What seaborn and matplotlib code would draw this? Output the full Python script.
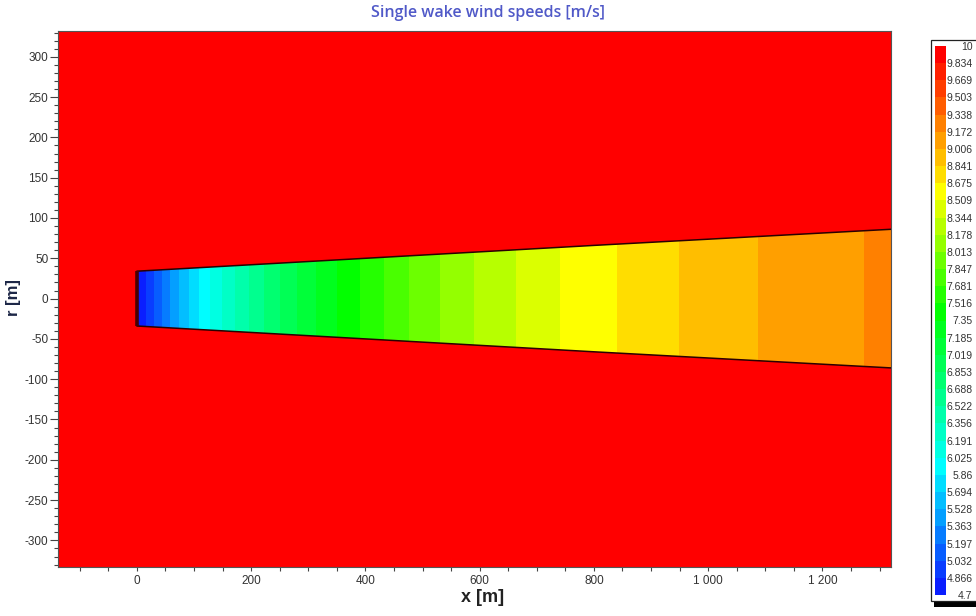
import numpy as np
import matplotlib
matplotlib.use("Agg")
import matplotlib.pyplot as plt
from matplotlib.colors import ListedColormap, BoundaryNorm, LinearSegmentedColormap
from matplotlib.cm import ScalarMappable
from matplotlib.patches import Polygon, Rectangle
from matplotlib.ticker import MultipleLocator, FuncFormatter
import seaborn as sns

# Colour-scale levels of the wind speed [m/s]
level_labels = ["4.7", "4.866", "5.032", "5.197", "5.363", "5.528", "5.694", "5.86",
                "6.025", "6.191", "6.356", "6.522", "6.688", "6.853", "7.019", "7.185",
                "7.35", "7.516", "7.681", "7.847", "8.013", "8.178", "8.344", "8.509",
                "8.675", "8.841", "9.006", "9.172", "9.338", "9.503", "9.669", "9.834", "10"]
levels = [float(s) for s in level_labels]

# Free-stream speed outside the wake [m/s]
free_stream = 10.0

# Wake bands: downstream start of each band [m] and its wind speed [m/s]
band_start_x = [0, 16, 30, 44, 58, 74, 91, 109, 128, 149, 172, 196, 223, 251,
                280, 314, 350, 390, 433, 476, 530, 590, 663, 740, 840, 949, 1088, 1272]
band_speed = [4.78, 4.95, 5.11, 5.28, 5.45, 5.61, 5.78, 5.94, 6.11, 6.27, 6.44, 6.60,
              6.77, 6.94, 7.10, 7.27, 7.43, 7.60, 7.76, 7.93, 8.10, 8.26, 8.43, 8.59,
              8.76, 8.92, 9.09, 9.26]
wake_end_x = 1320

# Wake half-width [m] at downstream stations [m]
station_x = [0, 400, 800, 1320]
station_r = [34, 50, 66, 86]

# Rotor half-height [m]
rotor_r = 34

sns.set_style("white")
plt.rcParams["font.family"] = ["Liberation Sans", "DejaVu Sans"]
plt.rcParams["axes.unicode_minus"] = False

# Discrete rainbow: blue -> cyan -> green -> yellow -> red
n_col = len(levels) - 1
nodes = [(0 / (n_col - 1), "#0a1eff"), (7 / (n_col - 1), "#00ffff"),
         (16 / (n_col - 1), "#00ff00"), (23 / (n_col - 1), "#ffff00"),
         (1.0, "#ff0000")]
base = LinearSegmentedColormap.from_list("wake", nodes)
cmap = ListedColormap([base(i / (n_col - 1)) for i in range(n_col)])
norm = BoundaryNorm(levels, ncolors=n_col)

W, H = 976, 616
fig = plt.figure(figsize=(W / 100, H / 100), dpi=100)
ax = fig.add_axes([58 / W, 1 - 567 / H, 833 / W, 536 / H])

xlim = (-138, 1320)
ylim = (-333, 332)
ax.set_xlim(*xlim)
ax.set_ylim(*ylim)

# free stream background
ax.axvspan(xlim[0], xlim[1], color=cmap(norm(free_stream - 1e-6)), lw=0, zorder=0)

# wake outline polygon
top = list(zip(station_x, station_r))
bot = list(zip(station_x[::-1], [-r for r in station_r[::-1]]))
wake_poly = Polygon(top + bot, closed=True, transform=ax.transData,
                    facecolor="none", edgecolor="none")
ax.add_patch(wake_poly)

band_end_x = band_start_x[1:] + [wake_end_x]
for xa, xb, s in zip(band_start_x, band_end_x, band_speed):
    span = ax.axvspan(xa, xb, color=cmap(norm(s)), lw=0, zorder=1)
    span.set_clip_path(wake_poly)

# wake boundary lines
ax.plot(station_x, station_r, color="#2a0000", lw=1.1, zorder=3)
ax.plot(station_x, [-r for r in station_r], color="#2a0000", lw=1.1, zorder=3)
# rotor disc
ax.plot([0, 0], [-rotor_r, rotor_r], color="#4a0000", lw=2.6, zorder=4,
        solid_capstyle="butt")

# ticks
ax.xaxis.set_major_locator(MultipleLocator(200))
ax.xaxis.set_minor_locator(MultipleLocator(50))
ax.yaxis.set_major_locator(MultipleLocator(50))
ax.yaxis.set_minor_locator(MultipleLocator(10))
ax.xaxis.set_major_formatter(FuncFormatter(lambda v, p: f"{int(round(v)):,}".replace(",", " ")))
ax.yaxis.set_major_formatter(FuncFormatter(lambda v, p: f"{int(round(v))}"))
ax.tick_params(axis="x", which="both", direction="out", length=3, width=0.8,
               color="#444444", labelsize=8.5, labelcolor="#333333", pad=3,
               bottom=True)
ax.tick_params(axis="y", which="major", direction="out", length=5.5, width=0.8,
               color="#444444", labelsize=8.5, labelcolor="#333333", pad=1.5,
               left=True)
ax.tick_params(axis="y", which="minor", direction="out", length=3, width=0.8,
               color="#444444", left=True)
for sp in ax.spines.values():
    sp.set_color("#555555")
    sp.set_linewidth(0.8)

ax.set_xlabel("x [m]", fontsize=13, fontweight="bold", color="#222222")
ax.xaxis.set_label_coords((483 - 58) / 833, -(597 - 567) / 536)
ax.set_ylabel("r [m]", fontsize=12, fontweight="bold", color="#1c2646")
ax.yaxis.set_label_coords(-(58 - 14) / 833, (567 - 298) / 536)
for lab in (ax.xaxis.label, ax.yaxis.label):
    lab.set_va("center")
    lab.set_ha("center")

fig.text(488 / W, 1 - 13 / H, "Single wake wind speeds [m/s]", ha="center", va="center",
         fontsize=11.5, fontweight="semibold", color="#5059c8",
         family=["Open Sans", "DejaVu Sans"])

# legend box with shadow, drawn beneath the colour bar
fig.patches.append(Rectangle((934 / W, 1 - 607 / H), 50 / W, 7 / H,
                             transform=fig.transFigure, facecolor="black",
                             edgecolor="none", zorder=-3))
fig.patches.append(Rectangle((931 / W, 1 - 601 / H), 50 / W, 561 / H,
                             transform=fig.transFigure, facecolor="white",
                             edgecolor="#222222", lw=0.9, zorder=-2))

cax = fig.add_axes([935 / W, 1 - 595 / H, 11 / W, 549 / H])
cax.set_zorder(2)
cb = fig.colorbar(ScalarMappable(norm=norm, cmap=cmap), cax=cax,
                  boundaries=levels, ticks=levels, spacing="uniform")
cb.outline.set_visible(False)
cb.ax.set_yticklabels(level_labels)
cax.tick_params(axis="y", length=0, pad=19, labelsize=7.5, labelcolor="#333333")
for tl in cax.get_yticklabels():
    tl.set_ha("right")

fig.savefig("out.png", dpi=100)
